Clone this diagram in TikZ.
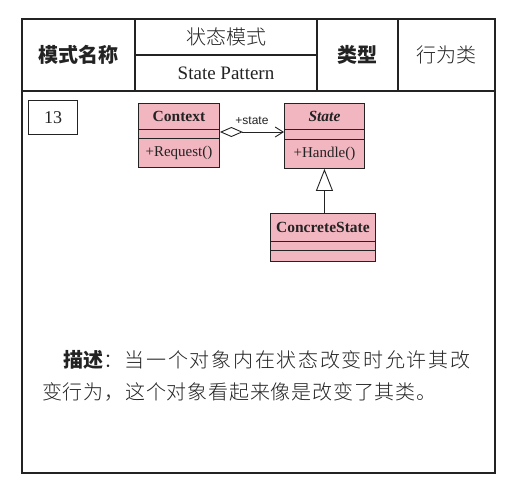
\documentclass[tikz,border=0pt]{standalone}
\usepackage{fontspec}
\setmainfont{Liberation Serif}
\newfontfamily\cjk{Noto Sans CJK SC}
\newfontfamily\cjklight{Noto Sans CJK SC Light}
\newfontfamily\lsans{Liberation Sans}
\usetikzlibrary{arrows.meta,calc}
\definecolor{umlpink}{RGB}{242,182,192}
\definecolor{ink}{RGB}{35,35,35}
\begin{document}
\begin{tikzpicture}[x=1pt,y=-1pt,
  frame/.style={draw=ink,line width=1.2pt},
  cls/.style={draw=ink,fill=umlpink,line width=0.9pt,inner sep=0pt,anchor=north west},
  clsname/.style={font=\fontsize{15.5}{17}\selectfont\bfseries,text=ink},
  clsop/.style={font=\fontsize{15}{17}\selectfont,text=ink},
  hdbold/.style={font=\cjk\bfseries\fontsize{20}{24}\selectfont,text=ink},
  hdreg/.style={font=\cjklight\fontsize{20}{24}\selectfont,text=ink},
  body/.style={font=\cjklight\fontsize{20}{24}\selectfont,text=ink,anchor=west,inner sep=0pt},
  conn/.style={draw=ink,line width=0.9pt}]
\useasboundingbox (0,0) rectangle (521,491);
% frame
\draw[frame] (22,19) rectangle (495,473);
\draw[frame] (22,91) -- (495,91);
\draw[frame] (135,19) -- (135,91);
\draw[frame] (317,19) -- (317,91);
\draw[frame] (398,19) -- (398,91);
\draw[frame] (135,55) -- (317,55);
% header texts
\node[hdbold] (hname) at (78.5,55) {模式名称};
\node[hdreg] (hcn) at (226,37) {状态模式};
\node[font=\fontsize{19}{22}\selectfont,text=ink] (hen) at (226,73) {State Pattern};
\node[hdbold] (htype) at (357.5,55) {类型};
\node[hdreg] (hval) at (446.5,55) {行为类};
% number box
\node[draw=ink,line width=0.9pt,minimum width=49pt,minimum height=34pt,font=\fontsize{18}{20}\selectfont,text=ink] (num) at (53,117.5) {13};
% Context
\node[cls,minimum width=81pt,minimum height=64pt] (Context) at (138,103) {};
\draw[conn] ($(Context.north west)+(0,26)$) -- ($(Context.north east)+(0,26)$);
\draw[conn] ($(Context.north west)+(0,35)$) -- ($(Context.north east)+(0,35)$);
\node[clsname] (ctxname) at ($(Context.north)+(0,13.5)$) {Context};
\node[clsop] (ctxop) at ($(Context.north)+(0,50)$) {+Request()};
% State
\node[cls,minimum width=80pt,minimum height=65pt] (State) at (284,103) {};
\draw[conn] ($(State.north west)+(0,26)$) -- ($(State.north east)+(0,26)$);
\draw[conn] ($(State.north west)+(0,36)$) -- ($(State.north east)+(0,36)$);
\node[clsname,font=\fontsize{15.5}{17}\selectfont\bfseries\itshape] (stname) at ($(State.north)+(0,13.5)$) {State};
\node[clsop] (stop) at ($(State.north)+(0,51)$) {+Handle()};
% ConcreteState
\node[cls,minimum width=105pt,minimum height=48pt] (Concrete) at (270,213) {};
\draw[conn] ($(Concrete.north west)+(0,28)$) -- ($(Concrete.north east)+(0,28)$);
\draw[conn] ($(Concrete.north west)+(0,37)$) -- ($(Concrete.north east)+(0,37)$);
\node[clsname] (csname) at ($(Concrete.north)+(0,14.5)$) {ConcreteState};
% connectors
\coordinate (ay) at (0,132);
\draw[conn,{Diamond[open,length=23pt,width=10pt,line width=0.9pt]}-{Straight Barb[length=8pt,width=10pt,line width=0.9pt]}]
  (Context.east |- ay) -- (State.west |- ay)
  node[pos=0.5,above=7pt,font=\lsans\fontsize{12}{14}\selectfont,text=ink,inner sep=0pt] (lbl) {+state};
\draw[conn,-{Triangle[open,length=22pt,width=17pt,line width=0.9pt,fill=white]}] (State.south |- Concrete.north) -- (State.south);
% description
\node[body,font=\cjklight\fontsize{20}{24}\selectfont\addfontfeatures{LetterSpace=8.5}] (d1) at (63,360) {{\cjk\bfseries 描述}：当一个对象内在状态改变时允许其改};
\node[body,font=\cjklight\fontsize{20}{24}\selectfont\addfontfeatures{LetterSpace=4}] (d2) at (42,392) {变行为，这个对象看起来像是改变了其类。};
\end{tikzpicture}
\end{document}
